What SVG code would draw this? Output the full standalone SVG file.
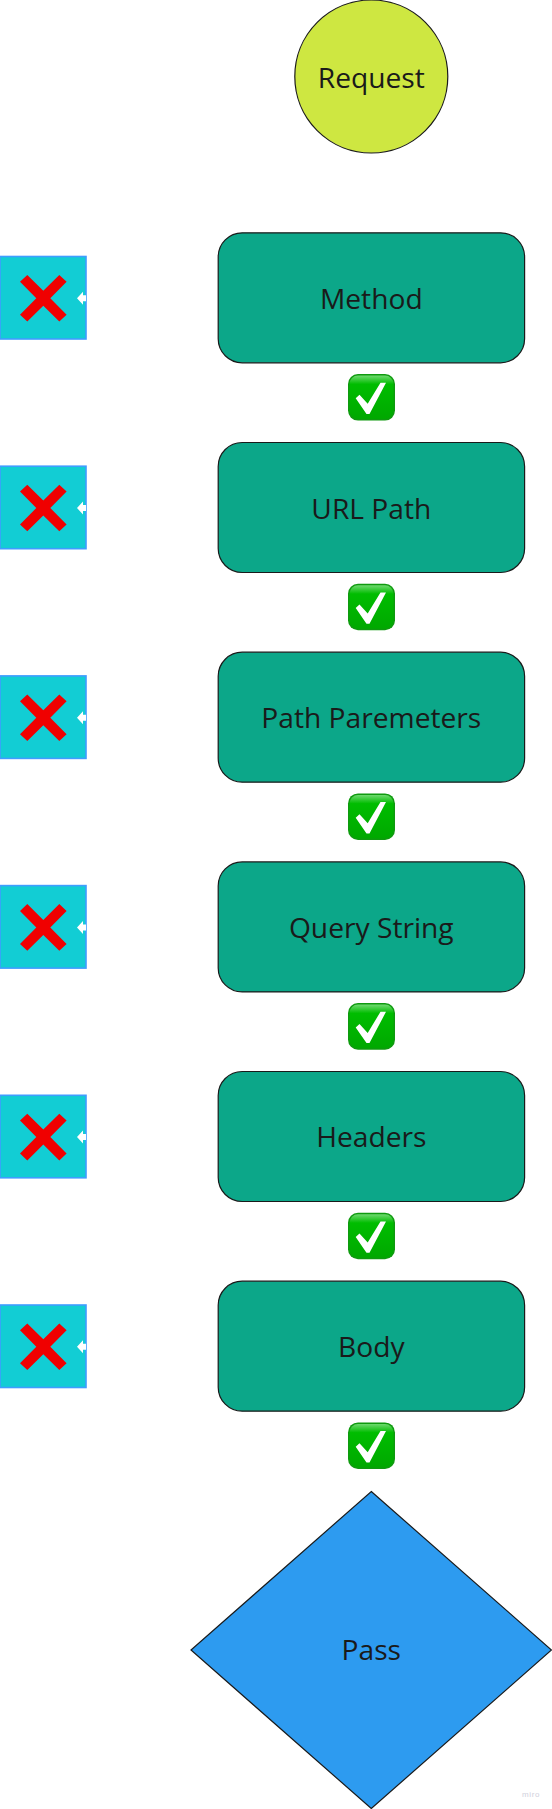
<svg xmlns="http://www.w3.org/2000/svg" xmlns:xlink="http://www.w3.org/1999/xlink" width="552" height="1809" viewBox="0 0 552 1809">
<style>
.bg{fill:#ffffff}
.t{font-family:"Open Sans","Noto Sans",sans-serif;font-size:28.2px;fill:#1a1a1a;text-anchor:middle}
.step{fill:#0ca789;stroke:#1a1a1a;stroke-width:1.2}
.rej{fill:#12cdd4;stroke:#3f9dff;stroke-width:1.6}
.x{fill:#f00000}
.wm{font-family:"Liberation Sans",sans-serif;font-size:8px;fill:#d0d0dc;text-anchor:middle;letter-spacing:.6px}
</style>
<defs>
<linearGradient id="g" x1="0" y1="0" x2="0" y2="1"><stop offset="0" stop-color="#6fd96f"/><stop offset=".2" stop-color="#00bd00"/><stop offset="1" stop-color="#00a800"/></linearGradient>
<g id="ok"><rect x="-23.500" y="-23.300" width="47" height="46.600" rx="10" fill="#0f9a0f"/><rect x="-22" y="-21.800" width="44" height="43.600" rx="8.500" fill="url(#g)"/><path d="M-15.800 1L-12-2.500L-3.800 6.500L9-14.600L14.500-14.600L-2 16.700L-5 16.700Z" fill="#fff"/></g>
<g id="cross"><path class="x" d="M-16-23.300L0-7.500L16-23.300L23.300-16.500L7 0L23.300 16.500L16 23.300L0 7.500L-16 23.300L-23.300 16.500L-7 0L-23.300-16.500Z"/></g>
<path id="tip" d="M-9 0L-3-6.500V-3H0V3H-3V6.500Z" fill="#fff"/>
</defs>
<rect class="bg" width="552" height="1809"/>
<g id="request"><circle cx="371.300" cy="76.500" r="76.500" fill="#cee741" stroke="#1a1a1a" stroke-width="1.200"/><text class="t" x="371.300" y="88">Request</text></g>
<g id="method"><rect class="step" x="218.200" y="232.800" width="306.400" height="130" rx="24"/><text class="t" x="371.300" y="309">Method</text></g>
<g id="url-path"><rect class="step" x="218.200" y="442.500" width="306.400" height="130" rx="24"/><text class="t" x="371.300" y="518.600">URL Path</text></g>
<g id="path-parameters"><rect class="step" x="218.200" y="652.200" width="306.400" height="130" rx="24"/><text class="t" x="371.300" y="728.200">Path Paremeters</text></g>
<g id="query-string"><rect class="step" x="218.200" y="861.900" width="306.400" height="130" rx="24"/><text class="t" x="371.300" y="937.800">Query String</text></g>
<g id="headers"><rect class="step" x="218.200" y="1071.500" width="306.400" height="130" rx="24"/><text class="t" x="371.300" y="1147.400">Headers</text></g>
<g id="body"><rect class="step" x="218.200" y="1281.200" width="306.400" height="130" rx="24"/><text class="t" x="371.300" y="1357">Body</text></g>
<g id="pass"><polygon points="371.300,1491.500 551.500,1650 371.300,1808.500 191,1650" fill="#2d9bf0" stroke="#1a1a1a" stroke-width="1.200"/><text class="t" x="371.300" y="1660">Pass</text></g>
<g id="reject-1"><rect class="rej" x="0" y="256.500" width="86" height="82.500"/><use xlink:href="#cross" href="#cross" x="43.300" y="298.300"/></g>
<g id="reject-2"><rect class="rej" x="0" y="466.200" width="86" height="82.500"/><use xlink:href="#cross" href="#cross" x="43.300" y="508"/></g>
<g id="reject-3"><rect class="rej" x="0" y="675.900" width="86" height="82.500"/><use xlink:href="#cross" href="#cross" x="43.300" y="717.700"/></g>
<g id="reject-4"><rect class="rej" x="0" y="885.600" width="86" height="82.500"/><use xlink:href="#cross" href="#cross" x="43.300" y="927.400"/></g>
<g id="reject-5"><rect class="rej" x="0" y="1095.300" width="86" height="82.500"/><use xlink:href="#cross" href="#cross" x="43.300" y="1137.100"/></g>
<g id="reject-6"><rect class="rej" x="0" y="1305" width="86" height="82.500"/><use xlink:href="#cross" href="#cross" x="43.300" y="1346.800"/></g>
<g id="pass-1"><use xlink:href="#ok" href="#ok" x="371.500" y="397.300"/></g>
<g id="pass-2"><use xlink:href="#ok" href="#ok" x="371.500" y="607"/></g>
<g id="pass-3"><use xlink:href="#ok" href="#ok" x="371.500" y="816.700"/></g>
<g id="pass-4"><use xlink:href="#ok" href="#ok" x="371.500" y="1026.400"/></g>
<g id="pass-5"><use xlink:href="#ok" href="#ok" x="371.500" y="1236"/></g>
<g id="pass-6"><use xlink:href="#ok" href="#ok" x="371.500" y="1445.700"/></g>
<g id="connectors">
<use xlink:href="#tip" href="#tip" x="86" y="298.300"/><use xlink:href="#tip" href="#tip" x="86" y="508"/><use xlink:href="#tip" href="#tip" x="86" y="717.700"/><use xlink:href="#tip" href="#tip" x="86" y="927.400"/><use xlink:href="#tip" href="#tip" x="86" y="1137.100"/><use xlink:href="#tip" href="#tip" x="86" y="1346.800"/>
</g>
<text class="wm" x="531" y="1797">miro</text>
</svg>
